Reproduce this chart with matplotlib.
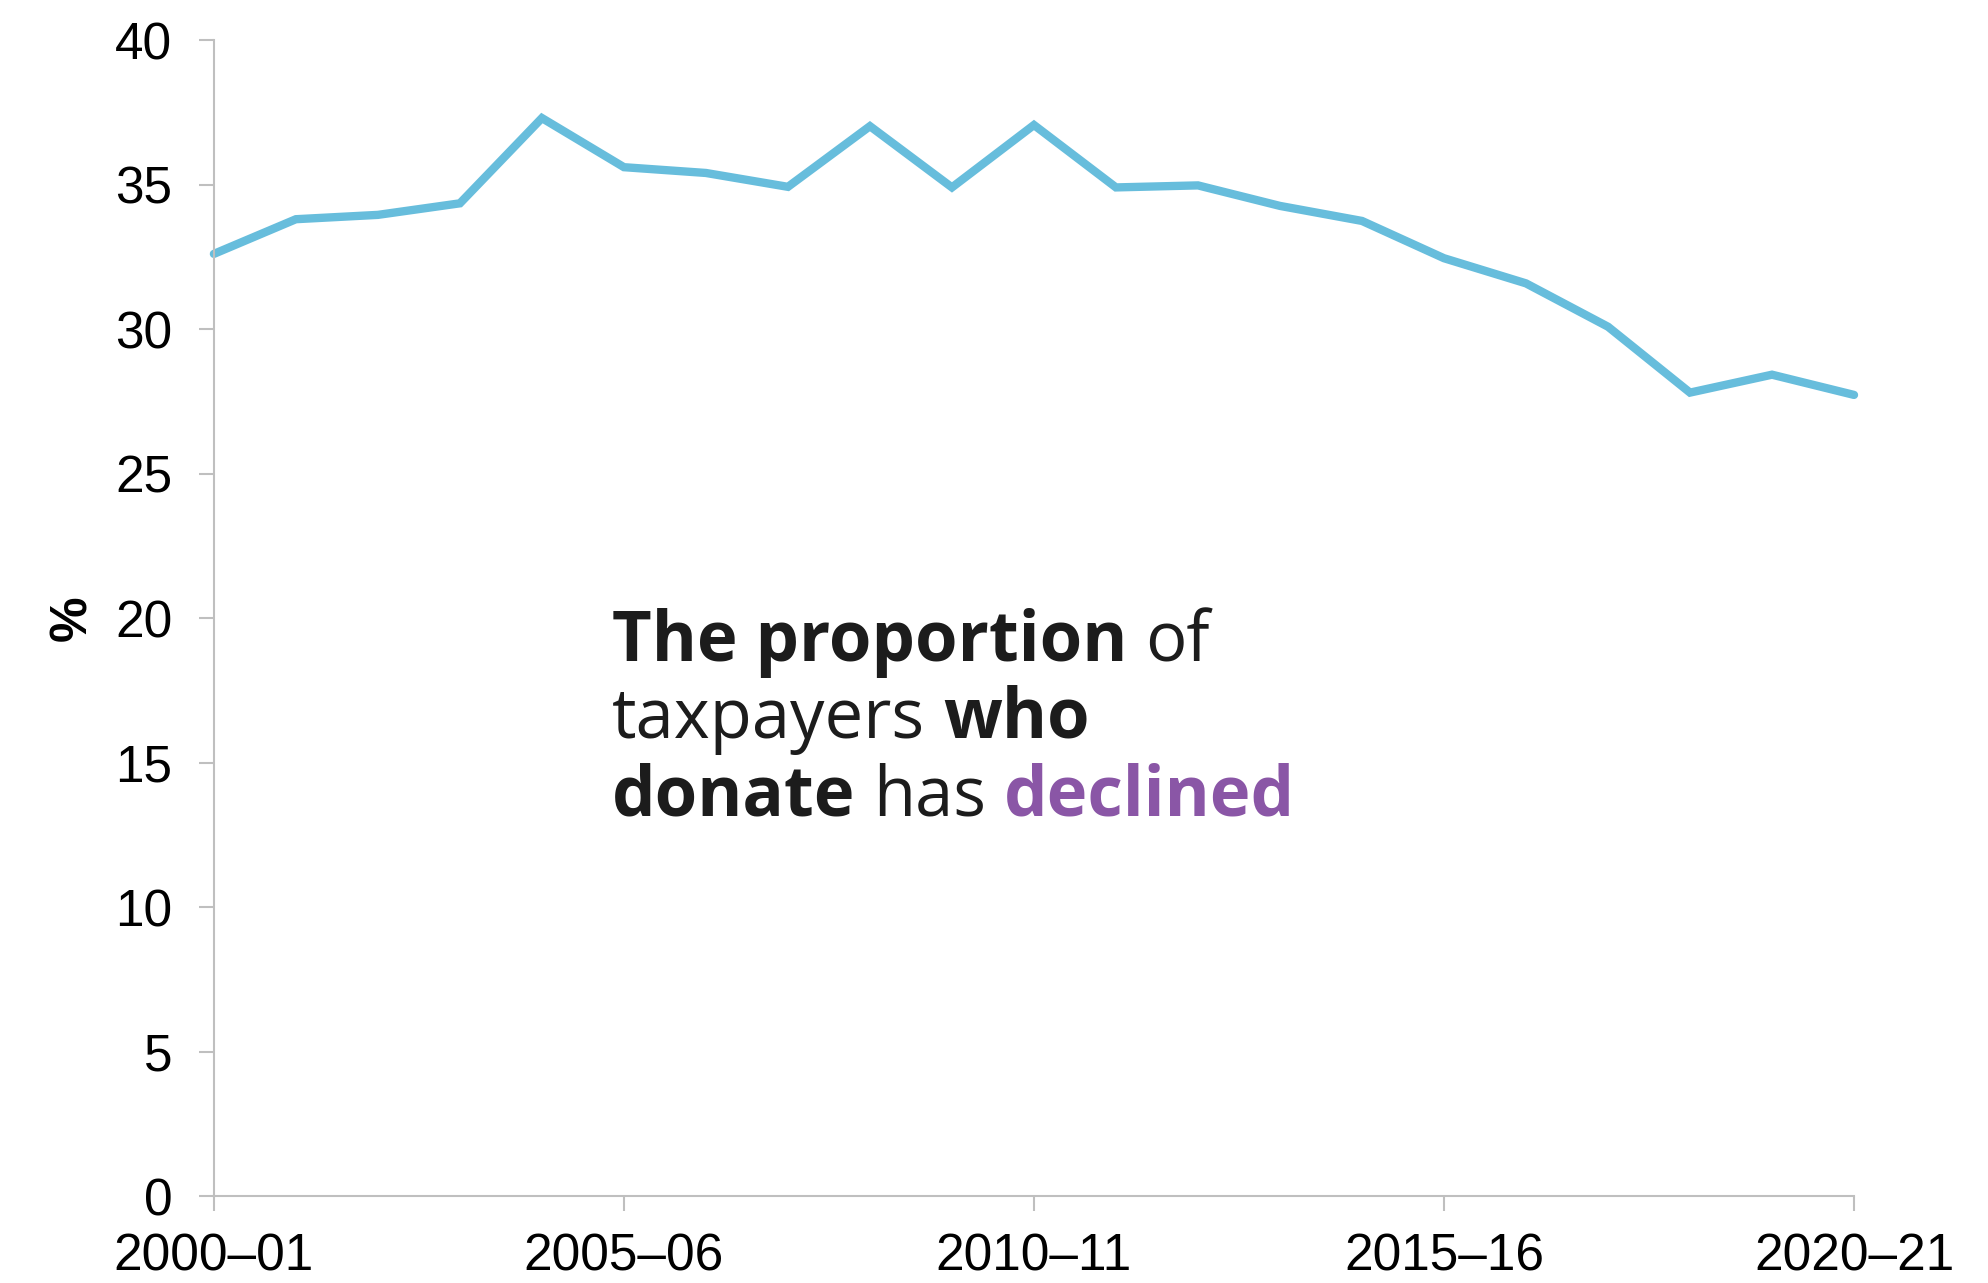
import matplotlib
matplotlib.use('Agg')
import matplotlib.pyplot as plt
import numpy as np

# Share of taxpayers claiming a donation, 2000-01 to 2020-21
years = ['2000–01', '2001–02', '2002–03', '2003–04', '2004–05', '2005–06',
         '2006–07', '2007–08', '2008–09', '2009–10', '2010–11', '2011–12',
         '2012–13', '2013–14', '2014–15', '2015–16', '2016–17', '2017–18',
         '2018–19', '2019–20', '2020–21']
share = [32.6, 33.8, 33.95, 34.35, 37.3, 35.6, 35.4, 34.92, 37.02, 34.9,
         37.06, 34.9, 34.97, 34.26, 33.74, 32.45, 31.58, 30.08, 27.8, 28.42,
         27.72]
y_ticks = [0, 5, 10, 15, 20, 25, 30, 35, 40]

line_col = '#67BDDC'
purple = '#8A56A6'
ink = '#1C1C1C'
grey = '#BFBFBF'

plt.rcParams['font.family'] = ['Liberation Sans', 'DejaVu Sans']

fig = plt.figure(figsize=(19.88, 12.83), dpi=100)
ax = fig.add_axes([0.1076, 0.0678, 0.9326 - 0.1076, 0.9688 - 0.0678])

x = np.arange(len(years))
ax.plot(x, share, color=line_col, lw=6, solid_capstyle='round',
        solid_joinstyle='miter', clip_on=False)

ax.set_xlim(0, len(years) - 1)
ax.set_ylim(0, 40)
ax.set_yticks(y_ticks)
ax.set_xticks(x[::5])
ax.set_xticklabels([years[i] for i in x[::5]])

for side in ['top', 'right']:
  ax.spines[side].set_visible(False)
for side in ['left', 'bottom']:
  ax.spines[side].set_color(grey)
  ax.spines[side].set_linewidth(1.5)

ax.tick_params(axis='both', direction='out', length=11, width=1.5,
               color=grey, labelsize=37, labelcolor='black')
ax.tick_params(axis='y', pad=19)
ax.tick_params(axis='x', pad=15)
ax.set_ylabel('%', fontsize=37, fontweight='bold', labelpad=13)

# Annotation, built piece by piece so weights and colours can mix
font = dict(family=['Open Sans', 'DejaVu Sans'], size=49.5)
space = 13
lines = [
  [('The proportion', 'bold', ink), ('of', 'normal', ink)],
  [('taxpayers', 'normal', ink), ('who', 'bold', ink)],
  [('donate', 'bold', ink), ('has', 'normal', ink), ('declined', 'bold', purple)],
]
line_y = [18.51, 15.85, 13.18]
text_x = 4.85

for pieces, yy in zip(lines, line_y):
  prev = None
  for txt, weight, col in pieces:
    if prev is None:
      prev = ax.text(text_x, yy, txt, fontweight=weight, color=col,
                     ha='left', va='baseline', **font)
    else:
      prev = ax.annotate(txt, xy=(1, 0), xycoords=prev,
                         xytext=(space, 0), textcoords='offset points',
                         fontweight=weight, color=col,
                         ha='left', va='bottom', **font)

fig.savefig('out.png', dpi=100)
